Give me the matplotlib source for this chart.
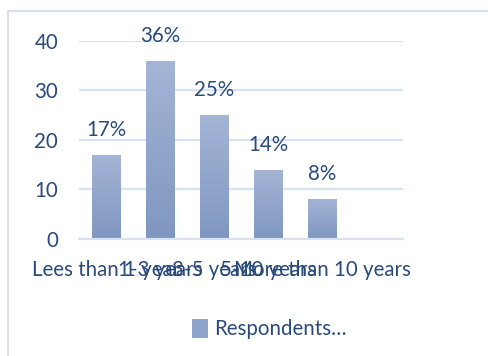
import numpy as np
import matplotlib.pyplot as plt
from matplotlib.patches import Rectangle, Patch
from matplotlib.colors import LinearSegmentedColormap

categories = ['Lees than 1 year', '1-3 years', '3-5 years', '5-10 years',
              'More than 10 years', '']
respondents = [17, 36, 25, 14, 8, 0]
yticks = [0, 10, 20, 30, 40]

textColor = '#2a4a7a'
gridColor = '#d9e2f1'
fs = 14.8
plt.rcParams['font.family'] = ['Lato', 'DejaVu Sans']

fig = plt.figure(figsize=(4.88, 3.56), dpi=100)
ax = fig.add_axes([0.1619, 0.3287, 0.6639, 0.5562])

x = np.arange(len(categories))
bars = ax.bar(x, respondents, width=0.52, color='#93a9cf', zorder=2)

# vertical gradient fill, light at the top and darker towards the base
grad = LinearSegmentedColormap.from_list('barGrad', ['#7f97c0', '#a4b5d6'])
for b, v in zip(bars, respondents):
    if v <= 0:
        continue
    b.set_facecolor('none')
    img = ax.imshow(np.linspace(0, 1, 100).reshape(-1, 1), cmap=grad,
                    origin='lower', aspect='auto', zorder=2,
                    extent=[b.get_x(), b.get_x() + b.get_width(), 0, v])
    img.set_clip_path(b)
    ax.annotate(f'{v}%', (b.get_x() + b.get_width() / 2, v),
                xytext=(0, 18), textcoords='offset points',
                ha='center', va='center', fontsize=fs, color=textColor,
                annotation_clip=False)

ax.set_xlim(-0.5, len(categories) - 0.5)
ax.set_ylim(0, 40)
ax.set_yticks(yticks)
ax.set_xticks(x)
ax.set_xticklabels(categories)
ax.grid(axis='y', color=gridColor, linewidth=1.6, zorder=0)
ax.set_axisbelow(True)
for s in ['top', 'right', 'left']:
    ax.spines[s].set_visible(False)
ax.spines['bottom'].set_color(gridColor)
ax.spines['bottom'].set_linewidth(1.6)
ax.tick_params(axis='both', length=0, labelsize=fs, labelcolor=textColor)
ax.tick_params(axis='y', pad=15)
ax.tick_params(axis='x', pad=15)

fig.legend(handles=[Patch(facecolor='#8fa5cc', edgecolor='none')],
           labels=['Respondents…'], loc='center left',
           bbox_to_anchor=(173 / 488, 1 - 329 / 356), frameon=False,
           fontsize=fs, labelcolor=textColor, handlelength=0.8,
           handleheight=1.05, handletextpad=0.3)

# chart border
fig.patches.append(Rectangle((8 / 488, -0.1), 1.2, 1 - 11 / 356 + 0.1,
                             transform=fig.transFigure, fill=False,
                             edgecolor='#d6e0ef', linewidth=1.5))

fig.savefig('out.png', dpi=100)
